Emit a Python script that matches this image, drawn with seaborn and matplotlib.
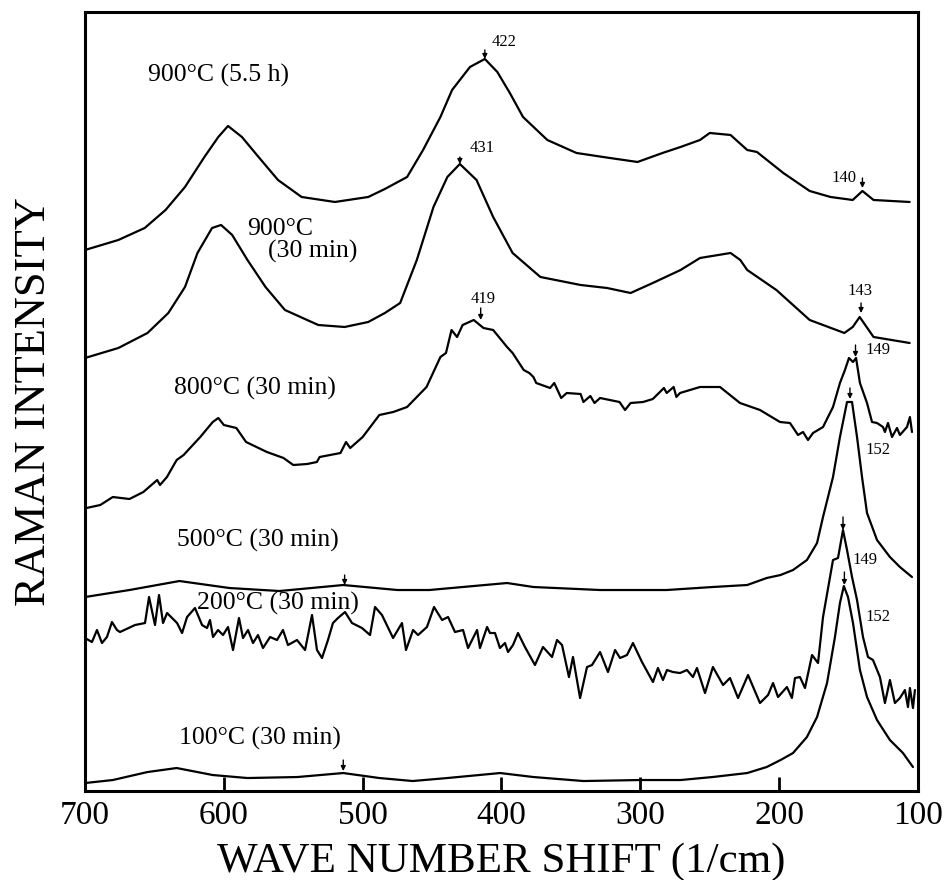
import matplotlib
matplotlib.use("Agg")
import matplotlib.pyplot as plt
import seaborn as sns
import pandas as pd

# spectra: wavenumber (1/cm) and stacked intensity (arb. units)
w_900_55h = [700, 676, 657, 642, 628, 614, 604, 597, 587, 575, 561, 544, 520, 496, 484, 468, 456.5,
             444, 435.6, 422.7, 412, 403, 394, 384.5, 367, 346, 322, 302, 284, 271, 257, 250, 235,
             223, 216, 197, 178, 163, 147, 140, 132, 106]
i_900_55h = [541, 551, 563, 581, 604, 634, 654, 665, 654, 634, 611, 594, 589, 594, 602, 614, 641,
             674, 701, 724, 732, 719, 698, 674, 651, 638, 633, 629, 638, 644, 651, 658, 656,
             641, 639, 618, 600, 594, 591, 600, 591, 589]

w_900_30 = [700, 676, 655, 640, 628, 619, 608.5, 602, 594, 583, 570, 556, 532, 513, 496, 484, 473,
            461, 449, 439, 430, 418, 406, 392, 372, 343, 324, 307, 291, 271, 257, 235, 228, 223,
            202, 178, 153, 147, 142, 137, 132, 106]
i_900_30 = [433, 443, 458, 478, 504, 538, 563, 566, 556, 531, 504, 481, 466, 464, 469, 478, 488,
            531, 584, 614, 627, 611, 574, 538, 514, 506, 503, 498, 508, 521, 533, 538, 531, 521,
            501, 471, 458, 464, 474, 464, 454, 448]

w_800 = [699, 689, 680, 668, 658, 648, 646, 641, 634, 629, 617, 608, 604, 600, 591, 584, 569, 557,
         550, 540, 533, 531, 516, 512, 509, 500, 488, 478, 468, 454, 444, 440, 436, 432, 428, 420,
         413, 406, 396, 392, 384, 380, 377, 375, 365, 362, 357, 353, 343, 341, 336, 333, 329, 315,
         311, 307, 298, 291, 283, 281, 276, 274, 271.4, 257, 242.6, 228.2, 213.8, 199.4, 192.2,
         186.4, 182.8, 179.2, 175.6, 168.4, 161.2, 156.2, 152.6, 149.7, 146.8, 144.6, 141.8, 136.7,
         133.1, 129.5, 125.2, 123.8, 121.6, 118.7, 115.1, 113, 107.9, 105.8, 104.3]
i_800 = [283, 286, 294, 292, 299, 311, 306, 314, 331, 336, 354, 369, 373, 366, 363, 349, 339, 333,
         326, 327, 329, 334, 338, 349, 343, 354, 376, 379, 384, 404, 434, 438, 461, 454, 466, 471,
         463, 461, 444, 438, 421, 418, 414, 408, 403, 408, 393, 398, 397, 389, 395, 388, 393, 389,
         381, 388, 389, 392, 403, 398, 404, 394, 398, 404, 404, 388, 381, 369, 368,
         356, 359, 351, 358, 364, 384, 408, 421, 433, 429, 433, 408, 388,
         369, 368, 364, 359, 368, 354, 363, 356, 364, 374, 359]

w_500 = [700, 668, 632, 596, 560, 514, 475, 452, 396, 377, 329, 281, 248, 223, 209, 199, 190,
         180, 172.7, 168.4, 161.2, 156.2, 151.1, 147.5, 143.9, 140.3, 136.7, 129.5, 120.2, 113, 104.3]
i_500 = [194, 201, 210, 203, 200, 206, 201, 201, 208, 204, 201, 201, 204, 206, 213, 216, 221,
         231, 248, 274, 314, 354, 389, 389, 354, 314, 278, 251, 234, 224, 214]

w_200 = [700, 695, 691.4, 687.8, 684.2, 680.6, 677, 674.8, 664, 656.8, 653.9, 649.6, 646.7, 643.8,
         640.9, 633.7, 630.1, 626.5, 620.8, 615.7, 612.1, 610, 607.8, 604.2, 600.6, 597, 593.4,
         589.1, 586.2, 582.6, 579, 575.4, 571.8, 566.7, 561.7, 557.4, 553.8, 547.3, 541.5, 536.5,
         532.9, 529.3, 525, 521.4, 517.8, 512.7, 507.7, 500.5, 494.7, 491.1, 486.1, 478.1, 471.7,
         468.8, 463.7, 460.1, 453.7, 448.6, 442.8, 438.5, 433.5, 427.7, 424.1, 417.6, 415.5, 410.4,
         408.3, 404.7, 401.1, 397.5, 395.3, 391.7, 388.1, 383.1, 375.9, 370.1, 363.6, 360, 356.4,
         351.4, 348.5, 343.4, 338.4, 334.8, 329, 323.3, 318.2, 314.6, 309.6, 305.3, 298.8, 290.9,
         287.3, 283.7, 280.8, 276.5, 271.4, 266.4, 262.1, 259.2, 253.4, 247.7, 240.4, 235.4, 229.6,
         222.4, 213.8, 208, 204.4, 200.8, 194.4, 190.8, 188.6, 185, 181.4, 176.3, 172, 168.4,
         161.2, 157.6, 154, 151.1, 147.5, 143.9, 139.6, 136, 132.4, 127.4, 123.8, 120.2, 116.6,
         113, 109.4, 107.2, 105.8, 103.6, 102.2]
i_200 = [153, 149, 161, 148, 154, 169, 161, 159, 166, 168, 194, 166, 196, 168,
         178, 168, 158, 174, 183, 166, 163, 171, 154, 161, 156, 164, 141,
         173, 153, 161, 148, 156, 143, 154, 151, 161, 146, 151, 141, 176,
         141, 133, 151, 168, 173, 179, 168, 163, 156, 184, 176, 153, 168,
         141, 161, 156, 164, 184, 171, 174, 159, 161, 143, 161, 143, 164,
         158, 158, 143, 148, 139, 146, 158, 144, 126, 144, 134, 151, 146,
         114, 134, 93, 124, 126, 139, 119, 141, 133, 136, 148, 129, 109,
         123, 111, 121, 119, 118, 121, 114, 123, 98, 124, 106, 113, 93,
         116, 88, 96, 108, 94, 104, 93, 113, 114, 103, 136, 128, 174,
         231, 233, 261, 241, 214, 191, 154, 134, 131, 114, 88, 111, 88,
         93, 101, 84, 103, 83, 101]

w_100 = [700, 680, 655, 634, 608, 583, 547, 514, 488, 464, 439, 401, 377, 341, 300, 271, 248, 223,
         209, 199, 190, 180, 172.7, 165.5, 159.8, 156.2, 153.4, 150.4, 146.8, 141.8, 136.7, 129.5,
         120.2, 110.8, 103.6]
i_100 = [8, 11, 19, 23, 16, 13, 14, 18, 13, 10, 13, 18, 14, 10, 11, 11, 14, 18,
         24, 31, 38, 54, 74, 108, 154, 188, 205, 194, 168, 121, 94, 71,
         51, 38, 24]

samples = ["900°C (5.5 h)", "900°C (30 min)", "800°C (30 min)",
           "500°C (30 min)", "200°C (30 min)", "100°C (30 min)"]
waves = [w_900_55h, w_900_30, w_800, w_500, w_200, w_100]
intens = [i_900_55h, i_900_30, i_800, i_500, i_200, i_100]

# peak markers: wavenumber, arrow tail, arrow tip
peak_w = [412, 430, 140, 141, 415, 145, 149, 154, 153, 513, 514]
peak_tail = [741, 634, 613, 488, 483, 446, 403, 274, 219, 216, 31]
peak_tip = [732, 627, 603, 478, 471, 434, 392, 261, 206, 206, 20]

df = pd.concat([pd.DataFrame({"wavenumber": w, "intensity": i, "sample": s})
                for w, i, s in zip(waves, intens, samples)], ignore_index=True)

sns.set_style("ticks")
plt.rcParams["font.family"] = ["Liberation Serif", "DejaVu Serif"]
plt.rcParams["text.color"] = "black"
plt.rcParams["axes.labelcolor"] = "black"
plt.rcParams["xtick.color"] = "black"

fig = plt.figure(figsize=(9.49, 8.8), dpi=100)
ax = fig.add_axes([0.0896, 0.1011, 0.8777, 0.8853])

sns.lineplot(data=df, x="wavenumber", y="intensity", units="sample", estimator=None,
             sort=False, color="black", lw=1.6, ax=ax, legend=False)

for w, t0, t1 in zip(peak_w, peak_tail, peak_tip):
    ax.annotate("", xy=(w, t1), xytext=(w, t0),
                arrowprops=dict(arrowstyle="-|>", color="black", lw=1.0,
                                mutation_scale=7, shrinkA=0, shrinkB=0))

# peak numbers
ax.text(407, 749, "422", fontsize=12, ha="left", va="center")
ax.text(423, 643, "431", fontsize=12, ha="left", va="center")
ax.text(144, 613, "140", fontsize=12, ha="right", va="center")
ax.text(142, 500, "143", fontsize=12, ha="center", va="center")
ax.text(413, 492, "419", fontsize=12, ha="center", va="center")
ax.text(138, 441, "149", fontsize=12, ha="left", va="center")
ax.text(138, 341, "152", fontsize=12, ha="left", va="center")
ax.text(147, 231, "149", fontsize=12, ha="left", va="center")
ax.text(138, 174, "152", fontsize=12, ha="left", va="center")

# sample labels
ax.text(655, 716, "900°C (5.5 h)", fontsize=18.5, ha="left", va="center")
ax.text(583, 562, "900°C", fontsize=18.5, ha="left", va="center")
ax.text(568, 540, "(30 min)", fontsize=18.5, ha="left", va="center")
ax.text(636, 403, "800°C (30 min)", fontsize=18.5, ha="left", va="center")
ax.text(634, 251, "500°C (30 min)", fontsize=18.5, ha="left", va="center")
ax.text(619, 188, "200°C (30 min)", fontsize=18.5, ha="left", va="center")
ax.text(632, 53, "100°C (30 min)", fontsize=18.5, ha="left", va="center")

ax.set_xlim(700, 100)
ax.set_ylim(0, 779)
ax.set_xticks([700, 600, 500, 400, 300, 200, 100])
ax.set_yticks([])
ax.tick_params(axis="x", direction="in", length=10, width=2, pad=7, labelsize=24)
ax.set_xlabel("WAVE NUMBER SHIFT (1/cm)", fontsize=31, labelpad=8)
ax.set_ylabel("RAMAN INTENSITY", fontsize=32, labelpad=22)
for sp in ax.spines.values():
    sp.set_linewidth(2.2)
    sp.set_color("black")

fig.savefig("out.png", dpi=100)
